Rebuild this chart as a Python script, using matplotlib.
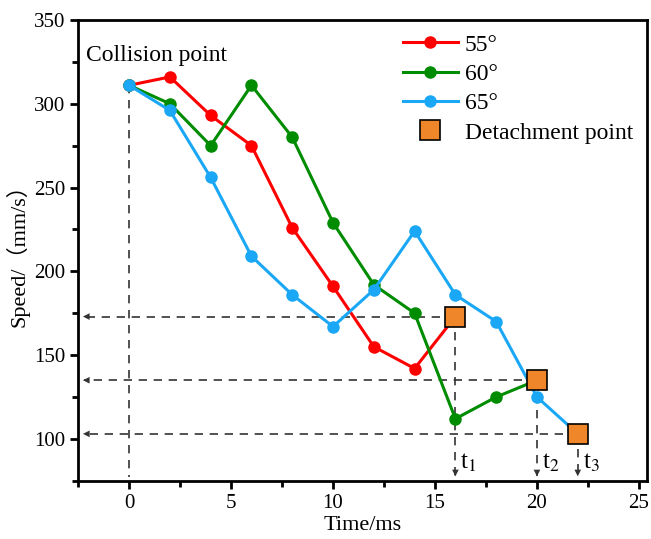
import matplotlib
matplotlib.use('Agg')
import matplotlib.pyplot as plt
import numpy as np

plt.rcParams['font.family'] = ['Liberation Serif', 'Noto Sans CJK SC']
plt.rcParams['mathtext.fontset'] = 'stix'

# data
t55 = [0, 2, 4, 6, 8, 10, 12, 14, 16]
v55 = [311, 316, 293, 275, 226, 191, 155, 142, 173]
t60 = [0, 2, 4, 6, 8, 10, 12, 14, 16, 18, 20]
v60 = [311, 300, 275, 311, 280, 229, 192, 175, 112, 125, 135]
t65 = [0, 2, 4, 6, 8, 10, 12, 14, 16, 18, 20, 22]
v65 = [311, 296, 256, 209, 186, 167, 189, 224, 186, 170, 125, 103]
det_t = [16, 20, 22]
det_v = [173, 135, 103]
det_lab = ['t$_1$', 't$_2$', 't$_3$']
collision = (0, 311)

fig = plt.figure(figsize=(6.51, 5.39), dpi=100)
ax = fig.add_axes([0.12, 0.108, 0.874, 0.855])

xmin, ymin = -2.5, 75
ax.set_xlim(xmin, 25.4)
ax.set_ylim(ymin, 350)

dash = dict(color='#333333', ls=(0, (5, 4)), lw=1.2, zorder=1)

# dashed guide lines with arrowheads
for x, y in zip(det_t, det_v):
    ax.plot([x, xmin + 0.3], [y, y], **dash)
    ax.plot([x, x], [y, ymin + 3], **dash)
    ax.annotate('', xy=(xmin + 0.1, y), xytext=(xmin + 0.9, y),
                arrowprops=dict(arrowstyle='-|>', color='#333333', lw=0, mutation_scale=12))
    ax.annotate('', xy=(x, ymin + 1), xytext=(x, ymin + 8),
                arrowprops=dict(arrowstyle='-|>', color='#333333', lw=0, mutation_scale=12))
ax.plot([collision[0], collision[0]], [collision[1], ymin + 2], **dash)

for lab, x in zip(det_lab, det_t):
    ax.text(x + 0.25, 86, lab, fontsize=18, ha='left', va='center')

ax.plot(t55, v55, '-o', color='#FF0000', lw=2.2, ms=8, label='55°', zorder=3)
ax.plot(t60, v60, '-o', color='#008C00', lw=2.2, ms=8, label='60°', zorder=3)
ax.plot(t65, v65, '-o', color='#1AA7F5', lw=2.2, ms=8, label='65°', zorder=3)
ax.plot(det_t, det_v, 's', color='#F0862A', mec='black', mew=1.2, ms=14,
        ls='none', label='Detachment point', zorder=4)

ax.text(-2.1, 329, 'Collision point', fontsize=17, ha='left', va='center')

ax.legend(loc='upper right', bbox_to_anchor=(1.0, 1.0), frameon=False, fontsize=17,
          handlelength=2.3, handletextpad=0.3, labelspacing=0.33, borderaxespad=0.2)

ax.set_xticks([0, 5, 10, 15, 20, 25])
ax.set_xticks(np.arange(-2.5, 25, 2.5), minor=True)
ax.set_yticks([100, 150, 200, 250, 300, 350])
ax.set_yticks(np.arange(75, 350, 25), minor=True)
ax.tick_params(which='both', direction='out', width=2, labelsize=15)
ax.tick_params(which='major', length=6)
ax.tick_params(which='minor', length=4)
for s in ax.spines.values():
    s.set_linewidth(2)

ax.set_xlabel('Time/ms', fontsize=16, labelpad=2)
ax.set_ylabel('Speed/（mm/s）', fontsize=16, labelpad=3)

fig.savefig('out.png', dpi=100)
